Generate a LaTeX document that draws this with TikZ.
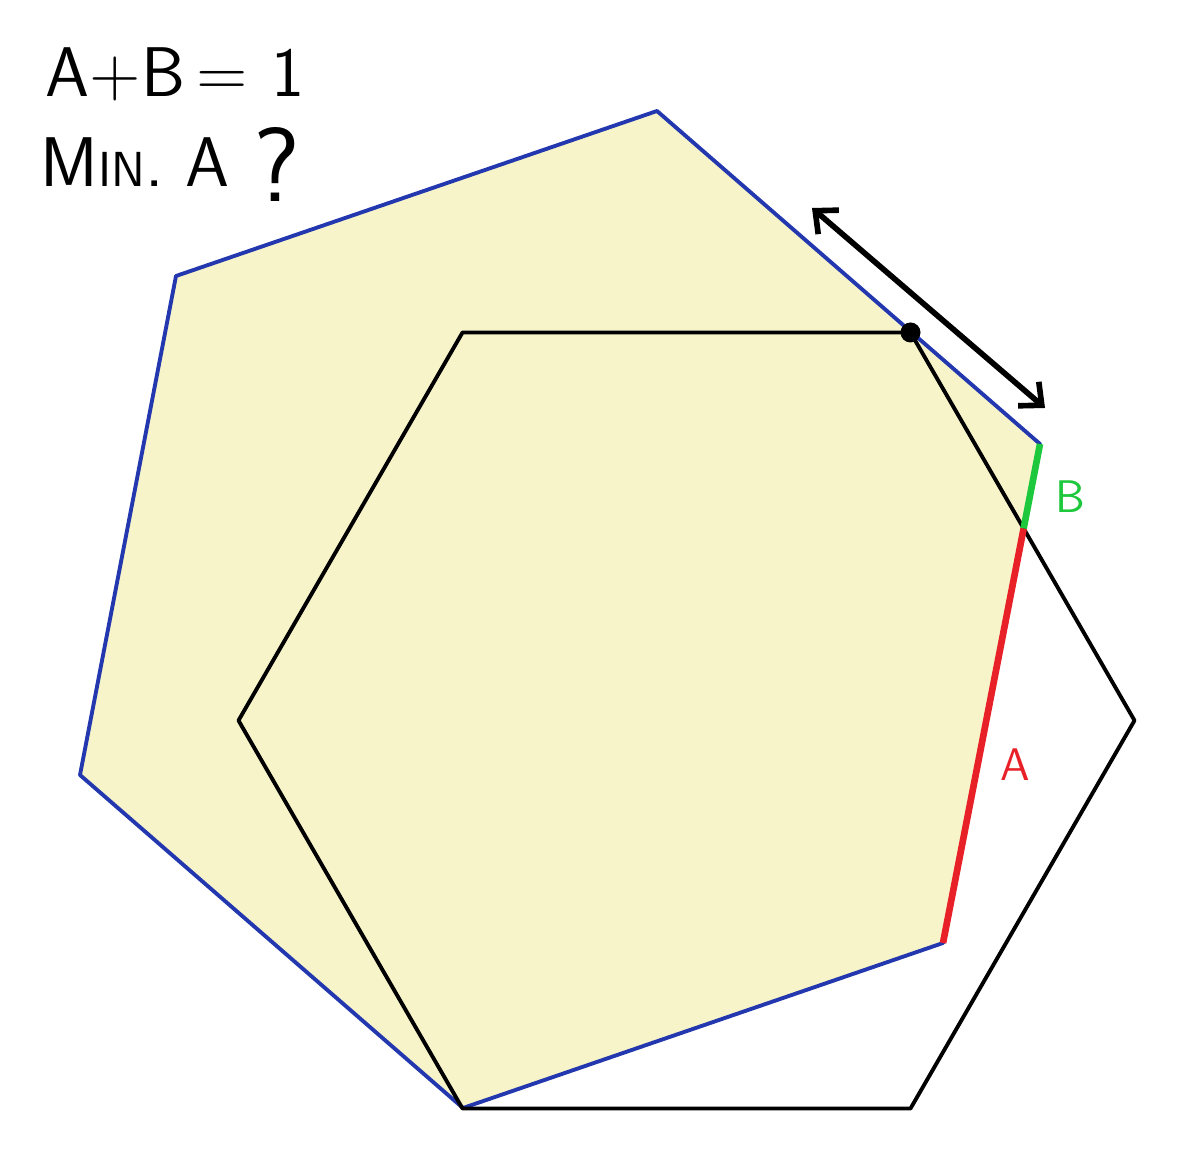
\documentclass[tikz,border=0pt]{standalone}
\usetikzlibrary{arrows.meta}

\definecolor{hexfill}{RGB}{247,244,202}
\definecolor{hexblue}{RGB}{35,55,175}
\definecolor{segred}{RGB}{232,32,40}
\definecolor{seggreen}{RGB}{30,200,60}

\begin{document}
\begin{tikzpicture}[x=0.01cm,y=-0.01cm,line join=round,
	  big hex/.style={fill=hexfill,draw=hexblue,line width=1.1pt},
	  small hex/.style={draw=black,line width=1.1pt},
	  hand/.style={font=\sffamily\fontsize{20}{24}\selectfont,anchor=base west,inner sep=0pt},
	  tag/.style={font=\sffamily\fontsize{13}{15}\selectfont}]

	\useasboundingbox (0,0) rectangle (1200,1174);

	% rotated hexagon
	\coordinate (y0) at (463,1108);
	\coordinate (y1) at (943,943);
	\coordinate (y2) at (1040,444);
	\coordinate (y3) at (657,111);
	\coordinate (y4) at (176,276);
	\coordinate (y5) at (80,775);

	% upright hexagon
	\coordinate (h0) at (1134.5,720.5);
	\coordinate (h1) at (910.5,332.5);
	\coordinate (h2) at (462.5,332.5);
	\coordinate (h3) at (238.5,720.5);
	\coordinate (h4) at (462.5,1108.5);
	\coordinate (h5) at (910.5,1108.5);

	\coordinate (cut) at (intersection of h1--h0 and y1--y2);

	\draw[big hex] (y0) -- (y1) -- (y2) -- (y3) -- (y4) -- (y5) -- cycle;
	\draw[small hex] (h0) -- (h1) -- (h2) -- (h3) -- (h4) -- (h5) -- cycle;

	\draw[segred,line width=1.9pt] (y1) -- (cut);
	\draw[seggreen,line width=1.9pt] (cut) -- (y2);
	\fill (h1) circle (10);

	\coordinate (arrA) at (812,208);
	\coordinate (arrB) at (1045,408);
	\draw[{Straight Barb[length=5pt,width=9pt]}-{Straight Barb[length=5pt,width=9pt]},line width=1.6pt] (arrA) -- (arrB);

	\node[tag,text=seggreen] (labB) at (1070,497) {B};
	\node[tag,text=segred] (labA) at (1015,765) {A};

	\node[hand] (sum) at (45,97) {A+B\,=\,\,1};
	\node[hand] (ask) at (40,187) {M{\fontsize{14}{18}\selectfont IN}. A\,\,\raisebox{-4pt}{\fontsize{30}{32}\selectfont ?}};

\end{tikzpicture}
\end{document}
